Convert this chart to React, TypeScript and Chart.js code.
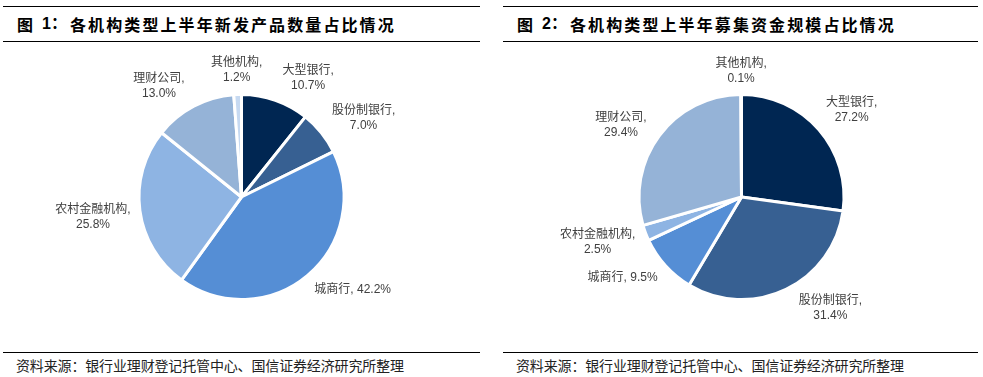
import React, { useEffect, useRef } from "react";
import { Chart, registerables } from "chart.js";

Chart.register(...registerables);

// ---------- data ----------
const categories = ["大型银行", "股份制银行", "城商行", "农村金融机构", "理财公司", "其他机构"];
const newProductShare = [10.7, 7.0, 42.2, 25.8, 13.0, 1.2];
const fundScaleShare = [27.2, 31.4, 9.5, 2.5, 29.4, 0.1];
const sliceColors = ["#002652", "#376092", "#558ed5", "#8eb4e3", "#95b3d7", "#c6d9f1"];
const title1 = "各机构类型上半年新发产品数量占比情况";
const title2 = "各机构类型上半年募集资金规模占比情况";
const sourceText = "资料来源：银行业理财登记托管中心、国信证券经济研究所整理";

// label layout tweaks (degrees of angular nudge per slice), and single-line labels
const labelNudge1 = [10, 6, -10, 0, -9, 0];
const labelNudge2 = [3, -13, 8, 3, -6, 0];
const singleLine1 = [false, false, true, false, false, false];
const singleLine2 = [false, false, true, false, false, false];

const FONT = "'Liberation Sans', 'Noto Sans CJK SC', sans-serif";

const outsideLabels = {
  id: "outsideLabels",
  afterDatasetsDraw(chart: any, _args: any, opts: any) {
    const ctx = chart.ctx;
    const meta = chart.getDatasetMeta(0);
    const data = chart.data.datasets[0].data;
    const labels = chart.data.labels;
    ctx.save();
    ctx.font = `12px ${FONT}`;
    ctx.fillStyle = "#404040";
    ctx.textAlign = "center";
    ctx.textBaseline = "middle";
    const lh = 15;
    const gap = 8;
    meta.data.forEach((arc: any, i: number) => {
      const { x, y, startAngle, endAngle, outerRadius } = arc.getProps(
        ["x", "y", "startAngle", "endAngle", "outerRadius"],
        true
      );
      const mid = (startAngle + endAngle) / 2 + ((opts.nudge?.[i] || 0) * Math.PI) / 180;
      const ux = Math.cos(mid);
      const uy = Math.sin(mid);
      const val = Number(data[i]).toFixed(1) + "%";
      const lines = opts.single?.[i] ? [labels[i] + ", " + val] : [labels[i] + ",", val];
      const w = Math.max(...lines.map((l: string) => ctx.measureText(l).width));
      const h = lines.length * lh;
      const dist = outerRadius + gap + Math.abs(ux) * (w / 2) + Math.abs(uy) * (h / 2);
      const cx = x + dist * ux;
      const cy = y + dist * uy;
      lines.forEach((l: string, k: number) => {
        ctx.fillText(l, cx, cy - h / 2 + lh / 2 + k * lh);
      });
    });
    ctx.restore();
  },
};

function PieChart(props: { values: number[]; nudge: number[]; single: boolean[]; width: number; height: number; cx: number; cy: number; size: number }) {
  const ref = useRef<HTMLCanvasElement>(null);
  useEffect(() => {
    if (!ref.current) return;
    const { width, height, cx, cy, size } = props;
    const left = cx - size / 2;
    const top = cy - size / 2;
    const chart = new Chart(ref.current, {
      type: "pie",
      data: {
        labels: categories,
        datasets: [
          {
            data: props.values,
            backgroundColor: sliceColors,
            borderColor: "#ffffff",
            borderWidth: 3,
          },
        ],
      },
      options: {
        animation: false,
        responsive: false,
        devicePixelRatio: 1,
        layout: {
          padding: { left, top, right: width - left - size, bottom: height - top - size },
        },
        plugins: {
          legend: { display: false },
          tooltip: { enabled: false },
          outsideLabels: { nudge: props.nudge, single: props.single },
        } as any,
      },
      plugins: [outsideLabels],
    });
    return () => chart.destroy();
  }, []);
  return (
    <canvas
      ref={ref}
      width={props.width}
      height={props.height}
      style={{ width: props.width, height: props.height, display: "block" }}
    />
  );
}

function Panel(props: { x: number; w: number; num: string; title: string; values: number[]; nudge: number[]; single: boolean[] }) {
  const { x, w } = props;
  const line = (top: number) => (
    <div style={{ position: "absolute", left: 0, top, width: w, height: 1, background: "#000" }} />
  );
  return (
    <div style={{ position: "absolute", left: x, top: 0, width: w, height: 377 }}>
      {line(6)}
      <div
        style={{
          position: "absolute",
          left: 14,
          top: 13,
          height: 22,
          lineHeight: "22px",
          fontFamily: "'Noto Sans CJK SC', sans-serif",
          fontWeight: "bold",
          fontSize: 16,
          color: "#000",
          whiteSpace: "nowrap",
        }}
      >
        图
      </div>
      <div
        style={{
          position: "absolute",
          left: 39,
          top: 13,
          height: 22,
          lineHeight: "22px",
          fontFamily: "'Liberation Sans', 'Noto Sans CJK SC', sans-serif",
          fontWeight: "bold",
          fontSize: 16,
          color: "#000",
          whiteSpace: "nowrap",
        }}
      >
        {props.num}：
      </div>
      <div
        style={{
          position: "absolute",
          left: 67,
          top: 13,
          height: 22,
          lineHeight: "22px",
          fontFamily: "'Noto Sans CJK SC', sans-serif",
          fontWeight: "bold",
          fontSize: 16,
          letterSpacing: "2.1px",
          color: "#000",
          whiteSpace: "nowrap",
        }}
      >
        {props.title}
      </div>
      {line(41)}
      <div style={{ position: "absolute", left: 0, top: 42 }}>
        <PieChart
          values={props.values}
          nudge={props.nudge}
          single={props.single}
          width={w}
          height={310}
          cx={238.5}
          cy={155}
          size={208}
        />
      </div>
      {line(352)}
      <div
        style={{
          position: "absolute",
          left: 13,
          top: 355,
          height: 20,
          lineHeight: "20px",
          fontFamily: "'Noto Sans CJK SC', sans-serif",
          fontSize: 14,
          letterSpacing: "-0.15px",
          color: "#222",
          whiteSpace: "nowrap",
        }}
      >
        {sourceText}
      </div>
    </div>
  );
}

export default function App() {
  return (
    <div
      style={{
        position: "fixed",
        left: 0,
        top: 0,
        width: 983,
        height: 377,
        background: "#fff",
        overflow: "hidden",
      }}
    >
      <Panel x={3} w={477} num="1" title={title1} values={newProductShare} nudge={labelNudge1} single={singleLine1} />
      <Panel x={503} w={475} num="2" title={title2} values={fundScaleShare} nudge={labelNudge2} single={singleLine2} />
    </div>
  );
}
